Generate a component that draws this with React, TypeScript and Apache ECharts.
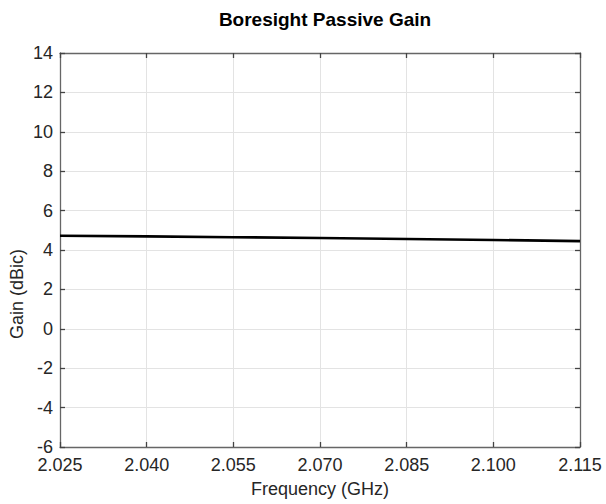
import React, { useEffect, useRef } from "react";
import * as echarts from "echarts";

const frequencies = [2.025, 2.04, 2.055, 2.07, 2.085, 2.1, 2.115];
const gain = [4.72, 4.69, 4.65, 4.61, 4.56, 4.51, 4.45];
const titleText = "Boresight Passive Gain";
const xName = "Frequency (GHz)";
const yName = "Gain (dBic)";

export default function App() {
  const ref = useRef<HTMLDivElement>(null);
  useEffect(() => {
    if (!ref.current) return;
    const chart = echarts.init(ref.current, null, { renderer: "svg" });
    const font = "Liberation Sans, Arial, sans-serif";
    const axisLine = { show: true, onZero: false, lineStyle: { color: "#666666", width: 1.3 } };
    const axisTick = { show: true, inside: true, length: 5, lineStyle: { color: "#444444", width: 1.3 } };
    const splitLine = { show: true, lineStyle: { color: "#e3e3e3", width: 1 } };
    const xBase = {
      type: "value" as const,
      min: 2.025,
      max: 2.115,
      interval: 0.015,
      axisLine,
      axisTick,
    };
    const yBase = {
      type: "value" as const,
      min: -6,
      max: 14,
      interval: 2,
      axisLine,
      axisTick,
    };
    chart.setOption({
      animation: false,
      backgroundColor: "#ffffff",
      title: {
        text: titleText,
        left: 320,
        textAlign: "center",
        top: 5,
        textStyle: { fontFamily: font, fontSize: 19, fontWeight: "bold", color: "#000000" },
      },
      grid: { left: 60, right: 26, top: 53, bottom: 57 },
      graphic: [
        {
          type: "text",
          x: 17,
          y: 294,
          rotation: Math.PI / 2,
          style: {
            text: yName,
            fontFamily: font,
            fontSize: 18,
            fill: "#262626",
            textAlign: "center",
            textVerticalAlign: "middle",
          },
        },
      ],
      xAxis: [
        {
          ...xBase,
          position: "bottom",
          name: xName,
          nameLocation: "middle",
          nameGap: 33,
          nameTextStyle: { fontFamily: font, fontSize: 18, color: "#262626" },
          axisLabel: {
            fontFamily: font,
            fontSize: 18,
            color: "#262626",
            margin: 9,
            formatter: (v: number) => v.toFixed(3),
          },
          splitLine,
        },
        {
          ...xBase,
          position: "top",
          axisLabel: { show: false },
          splitLine: { show: false },
        },
      ],
      yAxis: [
        {
          ...yBase,
          position: "left",
          axisLabel: { fontFamily: font, fontSize: 18, color: "#262626", margin: 7 },
          splitLine,
        },
        {
          ...yBase,
          position: "right",
          axisLabel: { show: false },
          splitLine: { show: false },
        },
      ],
      series: [
        {
          type: "line",
          xAxisIndex: 0,
          yAxisIndex: 0,
          data: frequencies.map((f, i) => [f, gain[i]]),
          showSymbol: false,
          lineStyle: { color: "#000000", width: 2.6 },
        },
      ],
    });
    return () => chart.dispose();
  }, []);
  return <div ref={ref} style={{ width: 606, height: 504, position: "absolute", left: 0, top: 0 }} />;
}
